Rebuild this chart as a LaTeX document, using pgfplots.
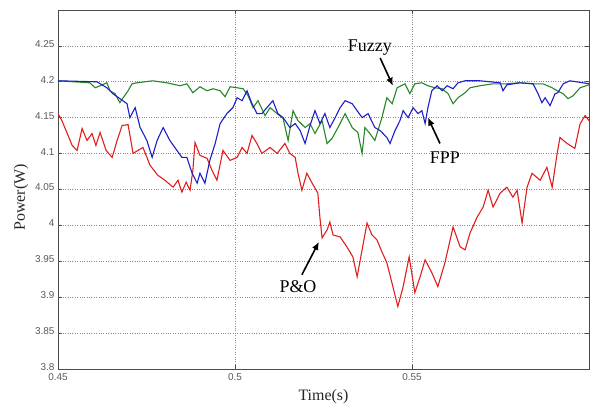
\documentclass[border=0pt]{standalone}
\usepackage{fontspec}
\setmainfont{Liberation Serif}
\newfontfamily\ticksans{Liberation Sans}
\usepackage{pgfplots}
\pgfplotsset{compat=1.18}
\usetikzlibrary{arrows.meta}

\definecolor{pored}{RGB}{225,30,30}
\definecolor{fppblue}{RGB}{30,30,200}
\definecolor{fuzgreen}{RGB}{40,135,40}

\begin{document}
\begin{tikzpicture}
\begin{axis}[
    scale only axis,
    width=531bp, height=359bp,
    xmin=0.45, xmax=0.6,
    ymin=3.8, ymax=4.3,
    xtick={0.45,0.5,0.55},
    xticklabels={0.45,0.5,0.55},
    ytick={3.8,3.85,3.9,3.95,4,4.05,4.1,4.15,4.2,4.25},
    yticklabels={3.8,3.85,3.9,3.95,4,4.05,4.1,4.15,4.2,4.25},
    tick align=inside,
    major tick length=4bp,
    tick style={black!70, line width=0.6bp},
    ticklabel style={font=\ticksans\fontsize{10}{10}\selectfont, text=black!65},
    xticklabel style={yshift=-1bp},
    yticklabel style={yshift=2bp},
    grid=major,
    major grid style={black!45, dotted, line width=0.6bp},
    axis line style={black!70, line width=0.8bp},
    xlabel={Time(s)},
    ylabel={Power(W)},
    label style={font=\fontsize{16}{16}\selectfont, text=black!85},
    xlabel style={yshift=-2bp},
    ylabel style={yshift=0bp, xshift=-8bp},
    clip=true,
]

% P&O
\addplot[pored, line width=1.1bp] coordinates {
(0.4500,4.1557) (0.4511,4.1460) (0.4525,4.1294) (0.4540,4.1114) (0.4554,4.1044)
(0.4568,4.1349) (0.4582,4.1183) (0.4596,4.1280) (0.4607,4.1114) (0.4619,4.1294)
(0.4636,4.1044) (0.4653,4.0947) (0.4667,4.1183) (0.4681,4.1391) (0.4698,4.1404)
(0.4712,4.1003) (0.4726,4.1044) (0.4740,4.1086) (0.4760,4.0837) (0.4782,4.0698)
(0.4802,4.0629) (0.4825,4.0532) (0.4839,4.0629) (0.4850,4.0463) (0.4862,4.0601)
(0.4873,4.0490) (0.4881,4.0767) (0.4887,4.1155) (0.4901,4.0975) (0.4921,4.0934)
(0.4935,4.0767) (0.4949,4.0629) (0.4966,4.1044) (0.4986,4.0906) (0.5006,4.0947)
(0.5020,4.1086) (0.5034,4.1003) (0.5048,4.1252) (0.5062,4.1141) (0.5076,4.1003)
(0.5099,4.1086) (0.5119,4.1003) (0.5141,4.1141) (0.5155,4.1003) (0.5170,4.0947)
(0.5178,4.0726) (0.5189,4.0490) (0.5203,4.0726) (0.5218,4.0587) (0.5234,4.0449)
(0.5240,4.0103) (0.5246,3.9826) (0.5260,3.9936) (0.5268,4.0047) (0.5277,3.9867)
(0.5297,3.9839) (0.5316,3.9701) (0.5333,3.9562) (0.5345,3.9285) (0.5359,3.9659)
(0.5373,4.0033) (0.5387,3.9867) (0.5401,3.9798) (0.5415,3.9632) (0.5429,3.9479)
(0.5446,3.9147) (0.5460,3.8870) (0.5475,3.9147) (0.5492,3.9562) (0.5508,3.9064)
(0.5523,3.9285) (0.5537,3.9521) (0.5556,3.9341) (0.5573,3.9147) (0.5593,3.9479)
(0.5616,3.9978) (0.5636,3.9701) (0.5650,3.9659) (0.5664,3.9895) (0.5684,4.0116)
(0.5701,4.0255) (0.5715,4.0490) (0.5729,4.0255) (0.5749,4.0449) (0.5768,4.0532)
(0.5785,4.0393) (0.5797,4.0490) (0.5811,4.0033) (0.5825,4.0532) (0.5839,4.0726)
(0.5862,4.0629) (0.5881,4.0809) (0.5896,4.0532) (0.5910,4.1003) (0.5918,4.1224)
(0.5938,4.1141) (0.5960,4.1072) (0.5975,4.1418) (0.5989,4.1529) (0.6000,4.1460)
};

% Fuzzy
\addplot[fuzgreen, line width=1.1bp] coordinates {
(0.4500,4.2014) (0.4590,4.1986) (0.4605,4.1917) (0.4619,4.1945) (0.4638,4.1986)
(0.4647,4.1875) (0.4661,4.1834) (0.4675,4.1709) (0.4684,4.1778) (0.4698,4.1875)
(0.4709,4.1972) (0.4723,4.1986) (0.4768,4.2014) (0.4808,4.1986) (0.4845,4.1945)
(0.4864,4.1972) (0.4881,4.1848) (0.4901,4.1931) (0.4921,4.1875) (0.4938,4.1903)
(0.4958,4.1875) (0.4972,4.1792) (0.4986,4.1931) (0.5006,4.1917) (0.5023,4.1903)
(0.5037,4.1806) (0.5051,4.1640) (0.5065,4.1737) (0.5085,4.1529) (0.5099,4.1640)
(0.5119,4.1557) (0.5136,4.1488) (0.5150,4.1183) (0.5164,4.1598) (0.5178,4.1460)
(0.5198,4.1363) (0.5212,4.1418) (0.5226,4.1280) (0.5246,4.1460) (0.5260,4.1141)
(0.5274,4.1210) (0.5291,4.1363) (0.5311,4.1557) (0.5331,4.1363) (0.5347,4.1294)
(0.5359,4.1003) (0.5367,4.1363) (0.5381,4.1280) (0.5395,4.1183) (0.5415,4.1501)
(0.5429,4.1778) (0.5444,4.1695) (0.5458,4.1917) (0.5480,4.1972) (0.5494,4.1834)
(0.5508,4.1972) (0.5528,4.1986) (0.5545,4.1945) (0.5565,4.1917) (0.5585,4.1903)
(0.5602,4.1834) (0.5616,4.1695) (0.5630,4.1778) (0.5650,4.1848) (0.5664,4.1917)
(0.5692,4.1945) (0.5729,4.1972) (0.5768,4.1972) (0.5805,4.1986) (0.5842,4.1972)
(0.5870,4.1972) (0.5896,4.1917) (0.5910,4.1875) (0.5927,4.1834) (0.5941,4.1765)
(0.5955,4.1806) (0.5975,4.1917) (0.6000,4.1958)
};

% FPP
\addplot[fppblue, line width=1.1bp] coordinates {
(0.4500,4.2014) (0.4610,4.2000) (0.4638,4.1917) (0.4655,4.1834) (0.4675,4.1765)
(0.4695,4.1695) (0.4703,4.1501) (0.4718,4.1640) (0.4732,4.1363) (0.4751,4.1183)
(0.4766,4.0947) (0.4780,4.1183) (0.4797,4.1363) (0.4816,4.1183) (0.4836,4.1044)
(0.4850,4.0947) (0.4864,4.0947) (0.4879,4.0726) (0.4893,4.0587) (0.4901,4.0726)
(0.4915,4.0587) (0.4929,4.0906) (0.4944,4.1141) (0.4958,4.1418) (0.4977,4.1557)
(0.4994,4.1640) (0.5006,4.1778) (0.5020,4.1737) (0.5034,4.1875) (0.5048,4.1695)
(0.5062,4.1557) (0.5076,4.1557) (0.5090,4.1640) (0.5107,4.1737) (0.5121,4.1557)
(0.5136,4.1501) (0.5155,4.1363) (0.5170,4.1418) (0.5184,4.1321) (0.5198,4.1141)
(0.5212,4.1391) (0.5226,4.1598) (0.5240,4.1418) (0.5254,4.1557) (0.5268,4.1363)
(0.5283,4.1501) (0.5297,4.1640) (0.5311,4.1737) (0.5331,4.1695) (0.5345,4.1598)
(0.5359,4.1501) (0.5376,4.1557) (0.5395,4.1363) (0.5410,4.1321) (0.5429,4.1224)
(0.5438,4.1141) (0.5452,4.1321) (0.5466,4.1460) (0.5475,4.1598) (0.5489,4.1501)
(0.5503,4.1640) (0.5517,4.1557) (0.5528,4.1598) (0.5537,4.1418) (0.5545,4.1640)
(0.5556,4.1875) (0.5571,4.1945) (0.5585,4.1875) (0.5599,4.1945) (0.5616,4.1903)
(0.5630,4.1986) (0.5650,4.2014) (0.5692,4.2014) (0.5749,4.1986) (0.5757,4.1875)
(0.5768,4.1958) (0.5805,4.1986) (0.5842,4.1972) (0.5856,4.1834) (0.5867,4.1709)
(0.5876,4.1778) (0.5890,4.1668) (0.5904,4.1834) (0.5912,4.1848) (0.5927,4.1972)
(0.5946,4.2014) (0.5983,4.1986) (0.6000,4.1972)
};

% annotations
\node[font=\fontsize{18}{18}\selectfont] at (axis cs:0.5381,4.2471) {Fuzzy};
\draw[-{Latex[length=8bp,width=7bp]}, line width=1.6bp] (axis cs:0.5410,4.2332) -- (axis cs:0.5446,4.1945);
\node[font=\fontsize{18}{18}\selectfont] at (axis cs:0.5593,4.0947) {FPP};
\draw[-{Latex[length=8bp,width=7bp]}, line width=1.6bp] (axis cs:0.5579,4.1141) -- (axis cs:0.5545,4.1501);
\node[font=\fontsize{18}{18}\selectfont] at (axis cs:0.5178,3.9147) {P\&O};
\draw[-{Latex[length=8bp,width=7bp]}, line width=1.6bp] (axis cs:0.5189,3.9313) -- (axis cs:0.5237,3.9770);
\end{axis}
\pgfresetboundingbox
\path[use as bounding box] ([xshift=-58bp,yshift=-36bp]current axis.south west) rectangle ([xshift=18bp,yshift=10bp]current axis.north east);
\end{tikzpicture}
\end{document}
